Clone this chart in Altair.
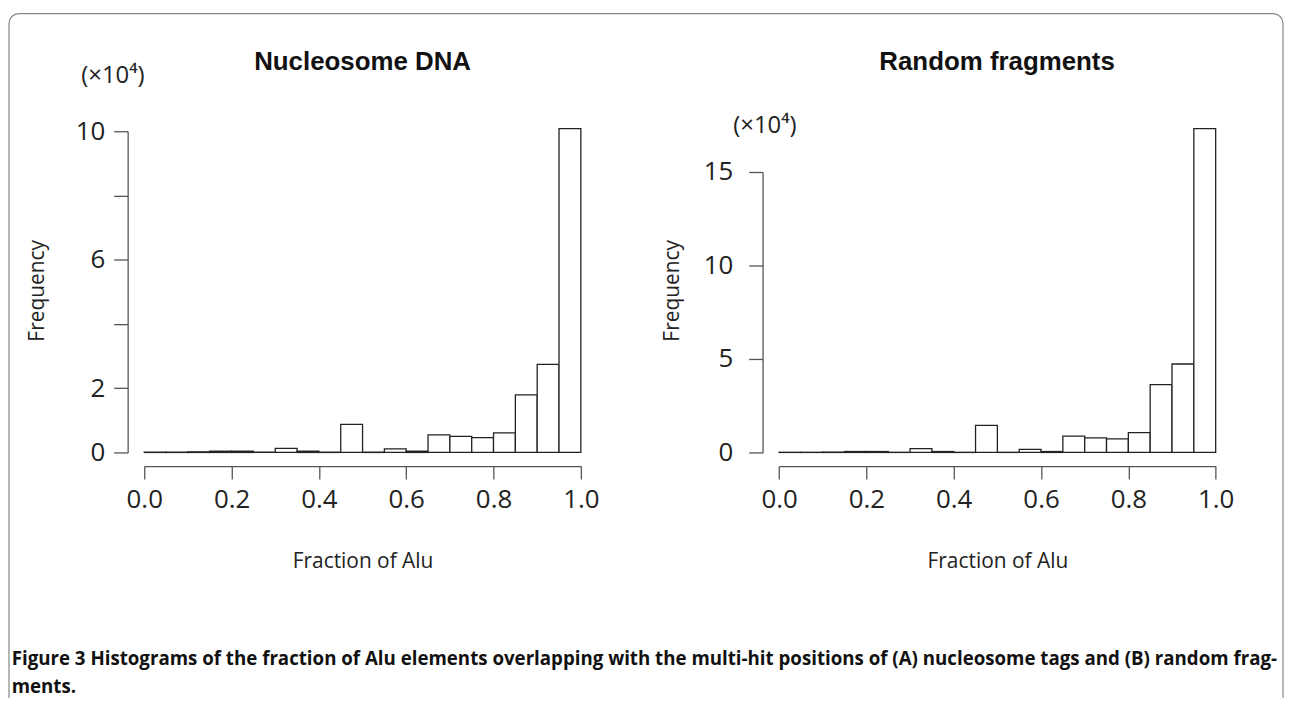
import altair as alt
import pandas as pd

# ---------------- data ----------------
bin_start = [0.00, 0.05, 0.10, 0.15, 0.20, 0.25, 0.30, 0.35, 0.40, 0.45,
             0.50, 0.55, 0.60, 0.65, 0.70, 0.75, 0.80, 0.85, 0.90, 0.95]
bin_end = [0.05, 0.10, 0.15, 0.20, 0.25, 0.30, 0.35, 0.40, 0.45, 0.50,
           0.55, 0.60, 0.65, 0.70, 0.75, 0.80, 0.85, 0.90, 0.95, 1.00]
# frequencies in units of 10^4
nucleosome_freq = [0.01, 0.01, 0.02, 0.04, 0.04, 0.01, 0.13, 0.04, 0.01, 0.875,
                   0.01, 0.11, 0.04, 0.55, 0.50, 0.46, 0.61, 1.79, 2.74, 10.08]
random_freq = [0.01, 0.01, 0.02, 0.05, 0.05, 0.01, 0.20, 0.05, 0.01, 1.45,
               0.01, 0.16, 0.05, 0.87, 0.78, 0.73, 1.06, 3.63, 4.73, 17.32]

x_ticks = [0.0, 0.2, 0.4, 0.6, 0.8, 1.0]
left_y_ticks = [0, 2, 4, 6, 8, 10]
right_y_ticks = [0, 5, 10, 15]

titles = ["Nucleosome DNA", "Random fragments"]
multiplier = "(×10⁴)"
x_title = "Fraction of Alu"
y_title = "Frequency"
caption_lines = [
    "Figure 3 Histograms of the fraction of Alu elements overlapping with the multi-hit positions of (A) nucleosome tags and (B) random frag-",
    "ments.",
]

# ---------------- layout ----------------
W, H = 1283, 690
AX = "#555555"
TXT = "#222222"
TICKFONT = "Open Sans"


def panel(freq, x_range, y_range, y_domain, y_ticks, label_expr, y_axis_x,
          label_pad, ytitle_x, title, title_xy, mult_xy):
    df = pd.DataFrame({"start": bin_start, "end": bin_end, "freq": freq})
    bars = alt.Chart(df).mark_rect(fill="white", stroke="#222222", strokeWidth=1.3).encode(
        x=alt.X("start:Q",
                scale=alt.Scale(domain=[0, 1], range=x_range, nice=False, zero=False),
                axis=alt.Axis(orient="bottom", offset=458.7 - H, values=x_ticks, format=".1f",
                              grid=False, tickSize=13, tickWidth=1.3, tickColor=AX,
                              domainColor=AX, domainWidth=1.3,
                              labelFont=TICKFONT, labelFontSize=26, labelColor=TXT,
                              labelPadding=8, labelFlush=False, labelOverlap=False,
                              title=x_title, titleFont=TICKFONT, titleFontSize=21,
                              titleFontWeight="normal", titleColor=TXT,
                              titleX=(x_range[0] + x_range[1]) / 2, titleY=96,
                              titleAlign="center", titleBaseline="middle")),
        x2="end:Q",
        y=alt.Y("freq:Q",
                scale=alt.Scale(domain=y_domain, range=y_range, nice=False, zero=True),
                axis=alt.Axis(orient="left", offset=-y_axis_x, values=y_ticks, format="d",
                              labelExpr=label_expr,
                              grid=False, tickSize=14, tickWidth=1.3, tickColor=AX,
                              domainColor=AX, domainWidth=1.3,
                              labelFont=TICKFONT, labelFontSize=26, labelColor=TXT,
                              labelPadding=label_pad, labelOverlap=False,
                              title=y_title, titleFont=TICKFONT, titleFontSize=21,
                              titleFontWeight="normal", titleColor=TXT,
                              titleAngle=270, titleX=ytitle_x, titleY=282,
                              titleAlign="center", titleBaseline="middle")),
        y2=alt.datum(0),
    )
    ttl = alt.Chart(alt.Data(values=[{"t": title}])).mark_text(
        font="Liberation Sans", fontWeight="bold", fontSize=26, color="#111111",
        align="center", baseline="middle"
    ).encode(x=alt.value(title_xy[0]), y=alt.value(title_xy[1]), text="t:N")
    mult = alt.Chart(alt.Data(values=[{"t": multiplier}])).mark_text(
        font=TICKFONT, fontSize=24, color=TXT, align="center", baseline="middle"
    ).encode(x=alt.value(mult_xy[0]), y=alt.value(mult_xy[1]), text="t:N")
    return alt.layer(bars, ttl, mult)


left = panel(nucleosome_freq, [137, 576], [445, 122], [0, 10], left_y_ticks,
             "datum.value == 4 || datum.value == 8 ? '' : datum.label",
             120.3, 9, -91, titles[0], (356.5, 52), (105.5, 67))
right = panel(random_freq, [775.3, 1214.3], [445, 163], [0, 15], right_y_ticks,
              "datum.label", 758.7, 16, -90.7, titles[1], (994.5, 52), (761, 117))

border = alt.Chart(alt.Data(values=[{"k": 1}])).mark_rect(
    fill="transparent", stroke="#888888", strokeWidth=1.2, cornerRadius=10
).encode(x=alt.value(1), x2=alt.value(W - 1), y=alt.value(3.7), y2=alt.value(H + 20))

cap_font = dict(font="Open Sans", fontWeight="bold", fontSize=18.8, color="#111111",
                align="left", baseline="alphabetic")
cap1 = alt.Chart(alt.Data(values=[{"t": caption_lines[0]}])).mark_text(**cap_font).encode(
    x=alt.value(3.7), y=alt.value(659), text="t:N")
cap2 = alt.Chart(alt.Data(values=[{"t": caption_lines[1]}])).mark_text(**cap_font).encode(
    x=alt.value(3.7), y=alt.value(687), text="t:N")

chart = alt.layer(left, right, border, cap1, cap2).resolve_scale(
    x="independent", y="independent"
).properties(
    width=W, height=H, padding=0,
    autosize=alt.AutoSizeParams(type="none"),
    background="white",
).configure_view(stroke=None)

chart.save("out.html", embed_options={"renderer": "svg", "actions": False})
